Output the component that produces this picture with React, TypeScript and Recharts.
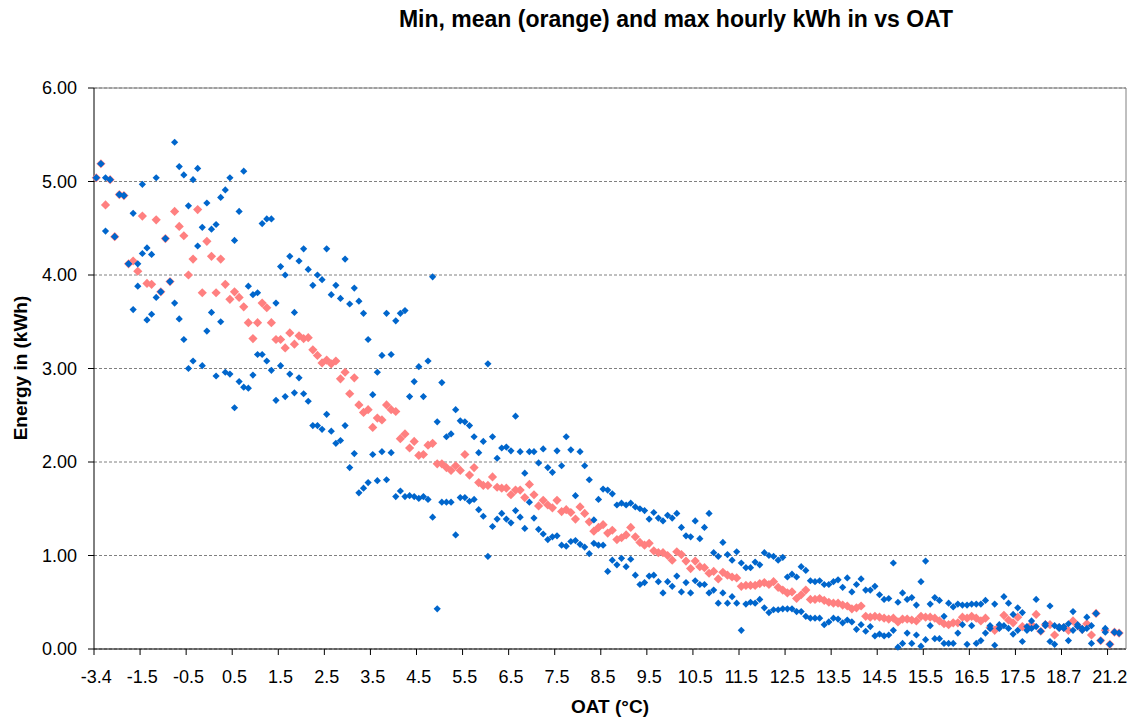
import { LineChart, Line, XAxis, YAxis, CartesianGrid, ReferenceLine } from "recharts";

const FONT = "'Liberation Sans', Arial, sans-serif";

// outside air temperature categories (°C), one per hourly bucket
const oat = [
  "-3.4", "-3.2", "-3.0", "-2.8", "-2.6", "-2.4", "-2.2", "-2.0", "-1.8", "-1.6",
  "-1.5", "-1.4", "-1.3", "-1.2", "-1.1", "-1.0", "-0.9", "-0.8", "-0.7", "-0.6",
  "-0.5", "-0.4", "-0.3", "-0.2", "-0.1", "0.0", "0.1", "0.2", "0.3", "0.4",
  "0.5", "0.6", "0.7", "0.8", "0.9", "1.0", "1.1", "1.2", "1.3", "1.4",
  "1.5", "1.6", "1.7", "1.8", "1.9", "2.0", "2.1", "2.2", "2.3", "2.4",
  "2.5", "2.6", "2.7", "2.8", "2.9", "3.0", "3.1", "3.2", "3.3", "3.4",
  "3.5", "3.6", "3.7", "3.8", "3.9", "4.0", "4.1", "4.2", "4.3", "4.4",
  "4.5", "4.6", "4.7", "4.8", "4.9", "5.0", "5.1", "5.2", "5.3", "5.4",
  "5.5", "5.6", "5.7", "5.8", "5.9", "6.0", "6.1", "6.2", "6.3", "6.4",
  "6.5", "6.6", "6.7", "6.8", "6.9", "7.0", "7.1", "7.2", "7.3", "7.4",
  "7.5", "7.6", "7.7", "7.8", "7.9", "8.0", "8.1", "8.2", "8.3", "8.4",
  "8.5", "8.6", "8.7", "8.8", "8.9", "9.0", "9.1", "9.2", "9.3", "9.4",
  "9.5", "9.6", "9.7", "9.8", "9.9", "10.0", "10.1", "10.2", "10.3", "10.4",
  "10.5", "10.6", "10.7", "10.8", "10.9", "11.0", "11.1", "11.2", "11.3", "11.4",
  "11.5", "11.6", "11.7", "11.8", "11.9", "12.0", "12.1", "12.2", "12.3", "12.4",
  "12.5", "12.6", "12.7", "12.8", "12.9", "13.0", "13.1", "13.2", "13.3", "13.4",
  "13.5", "13.6", "13.7", "13.8", "13.9", "14.0", "14.1", "14.2", "14.3", "14.4",
  "14.5", "14.6", "14.7", "14.8", "14.9", "15.0", "15.1", "15.2", "15.3", "15.4",
  "15.5", "15.6", "15.7", "15.8", "15.9", "16.0", "16.1", "16.2", "16.3", "16.4",
  "16.5", "16.6", "16.7", "16.8", "16.9", "17.0", "17.1", "17.2", "17.3", "17.4",
  "17.5", "17.6", "17.7", "17.8", "17.9", "18.0", "18.1", "18.2", "18.4", "18.5",
  "18.7", "18.9", "19.1", "19.3", "19.6", "19.8", "20.0", "20.3", "20.6", "20.9",
  "21.2", "21.4", "21.8", "22.3",
];

const maxKwh = [
  5.04, 5.19, 5.04, 5.02, 4.41, 4.86, 4.85, 4.12, 4.66, 4.12,
  4.97, 4.29, 4.22, 5.04, 3.82, 4.39, 3.93, 5.42, 5.16, 5.07,
  4.74, 5.02, 5.14, 4.51, 4.77, 4.49, 4.54, 4.83, 4.91, 5.04,
  4.37, 4.68, 5.11, 3.88, 3.79, 3.81, 4.55, 4.6, 4.6, 3.7,
  4.09, 4.0, 4.2, 3.6, 4.15, 4.28, 4.06, 3.89, 4.0, 3.95,
  4.28, 3.79, 3.89, 3.75, 4.17, 3.69, 3.86, 3.72, 3.59, 3.31,
  2.72, 2.96, 3.14, 3.59, 3.15, 3.51, 3.59, 3.62, 2.7, 2.86,
  3.02, 2.7, 3.08, 3.98, 2.43, 2.85, 2.27, 2.3, 2.56, 2.44,
  2.43, 2.39, 2.27, 2.1, 2.22, 3.05, 2.27, 2.04, 2.15, 2.16,
  2.12, 2.49, 2.11, 1.88, 2.11, 2.11, 1.99, 2.14, 1.94, 1.89,
  2.12, 1.96, 2.27, 2.13, 1.64, 2.11, 1.96, 1.81, 1.38, 1.6,
  1.71, 1.7, 1.66, 1.54, 1.56, 1.54, 1.56, 1.52, 1.5, 1.48,
  1.39, 1.46, 1.4, 1.37, 1.43, 1.4, 1.45, 1.3, 1.21, 1.2,
  1.37, 1.18, 1.3, 1.45, 1.03, 0.99, 1.14, 1.01, 0.95, 1.04,
  0.92, 0.87, 0.87, 0.93, 0.9, 1.03, 1.0, 0.99, 0.95, 0.98,
  0.77, 0.8, 0.77, 0.88, 0.84, 0.73, 0.72, 0.73, 0.69, 0.69,
  0.72, 0.74, 0.66, 0.76, 0.61, 0.69, 0.75, 0.63, 0.63, 0.67,
  0.58, 0.53, 0.54, 0.92, 0.5, 0.6, 0.53, 0.55, 0.47, 0.72,
  0.94, 0.48, 0.55, 0.52, 0.35, 0.49, 0.45, 0.48, 0.47, 0.47,
  0.48, 0.48, 0.48, 0.52, 0.25, 0.48, 0.26, 0.56, 0.49, 0.37,
  0.44, 0.39, 0.24, 0.3, 0.53, 0.19, 0.27, 0.46, 0.25, 0.24,
  0.24, 0.27, 0.4, 0.26, 0.22, 0.34, 0.25, 0.38, 0.09, 0.22,
  0.05, 0.18, 0.17, null,
];

const meanKwh = [
  5.04, 5.19, 4.75, 5.02, 4.41, 4.86, 4.85, 4.12, 4.15, 4.04,
  4.63, 3.91, 3.9, 4.59, 3.82, 4.39, 3.93, 4.68, 4.52, 4.42,
  4.0, 4.17, 4.7, 3.81, 4.36, 4.2, 3.81, 4.17, 3.9, 3.74,
  3.82, 3.76, 3.66, 3.49, 3.32, 3.49, 3.7, 3.65, 3.49, 3.31,
  3.31, 3.22, 3.38, 3.26, 3.35, 3.32, 3.33, 3.2, 3.14, 3.06,
  3.09, 3.05, 3.08, 2.89, 2.96, 2.73, 2.9, 2.61, 2.53, 2.56,
  2.37, 2.47, 2.45, 2.61, 2.56, 2.54, 2.25, 2.3, 2.15, 2.22,
  2.07, 2.08, 2.18, 2.2, 1.98, 1.98, 1.94, 1.91, 1.96, 1.91,
  2.08, 1.86, 1.94, 1.78, 1.75, 1.75, 1.84, 1.73, 1.72, 1.72,
  1.65, 1.7, 1.7, 1.62, 1.76, 1.65, 1.53, 1.59, 1.54, 1.51,
  1.59, 1.47, 1.49, 1.46, 1.39, 1.52, 1.45, 1.36, 1.26, 1.3,
  1.33, 1.24, 1.27, 1.17, 1.19, 1.22, 1.3, 1.2, 1.14, 1.11,
  1.13, 1.05, 1.03, 1.03, 1.0, 0.95, 1.04, 1.01, 0.94, 0.86,
  0.94, 0.88, 0.87, 0.81, 0.83, 0.75, 0.82, 0.79, 0.77, 0.76,
  0.67, 0.68, 0.68, 0.68, 0.7, 0.71, 0.69, 0.72, 0.66, 0.63,
  0.6, 0.61, 0.54, 0.58, 0.63, 0.53, 0.53, 0.54, 0.52, 0.5,
  0.49, 0.49, 0.47, 0.46, 0.43, 0.44, 0.46, 0.35, 0.34, 0.35,
  0.34, 0.33, 0.32, 0.33, 0.29, 0.32, 0.32, 0.31, 0.3, 0.35,
  0.34, 0.34, 0.33, 0.3, 0.27, 0.26, 0.28, 0.28, 0.34, 0.33,
  0.35, 0.33, 0.3, 0.33, 0.23, 0.2, 0.24, 0.36, 0.31, 0.28,
  0.34, 0.24, 0.22, 0.26, 0.37, 0.19, 0.26, 0.26, 0.15, 0.23,
  0.23, 0.2, 0.3, 0.25, 0.21, 0.27, 0.15, 0.38, 0.09, 0.2,
  0.05, 0.18, 0.17, null,
];

const minKwh = [
  5.04, 5.19, 4.47, 5.02, 4.41, 4.86, 4.85, 4.12, 3.63, 3.88,
  4.23, 3.52, 3.58, 3.76, 3.82, 4.39, 3.93, 3.7, 3.53, 3.31,
  3.0, 3.08, 4.31, 3.03, 3.4, 3.6, 2.92, 3.5, 2.96, 2.94,
  2.58, 2.86, 2.8, 2.79, 2.93, 3.15, 3.15, 3.08, 2.98, 2.66,
  3.03, 2.7, 2.94, 2.74, 2.9, 2.73, 2.65, 2.39, 2.39, 2.35,
  2.51, 2.33, 2.2, 2.23, 2.39, 1.94, 2.09, 1.67, 1.72, 1.78,
  2.08, 1.8, 2.11, 1.81, 2.1, 1.63, 1.69, 1.63, 1.64, 1.63,
  1.61, 1.63, 1.6, 1.41, 0.43, 1.57, 1.57, 1.57, 1.22, 1.62,
  1.62, 1.58, 1.6, 1.49, 1.42, 0.99, 1.31, 1.39, 1.45, 1.39,
  1.35, 1.48, 1.41, 1.29, 1.57, 1.4, 1.28, 1.23, 1.17, 1.2,
  1.21, 1.11, 1.1, 1.15, 1.16, 1.12, 1.09, 1.02, 1.13, 1.11,
  1.11, 0.83, 0.95, 0.9, 0.97, 0.88, 0.96, 0.79, 0.69, 0.71,
  0.78, 0.79, 0.72, 0.6, 0.72, 0.67, 0.78, 0.61, 0.71, 0.6,
  0.73, 0.69, 0.69, 0.6, 0.63, 0.49, 0.6, 0.49, 0.56, 0.49,
  0.2, 0.48, 0.5, 0.49, 0.53, 0.44, 0.39, 0.42, 0.42, 0.43,
  0.43, 0.43, 0.4, 0.4, 0.35, 0.33, 0.33, 0.33, 0.26, 0.29,
  0.33, 0.32, 0.28, 0.31, 0.29, 0.21, 0.26, 0.19, 0.24, 0.14,
  0.16, 0.14, 0.15, 0.2, 0.02, 0.06, 0.17, 0.06, 0.15, 0.03,
  0.1, 0.25, 0.11, 0.11, 0.06, 0.06, 0.06, 0.17, 0.26, 0.05,
  0.25, 0.06, 0.09, 0.17, 0.22, 0.04, 0.22, 0.25, 0.22, 0.16,
  0.2, 0.08, 0.2, 0.22, 0.24, 0.19, 0.25, 0.08, 0.05, 0.22,
  0.22, 0.09, 0.2, 0.24, 0.2, 0.22, 0.06, 0.38, 0.09, 0.18,
  0.05, 0.18, 0.17, null,
];

const yTicks = [0, 1, 2, 3, 4, 5, 6];

const data = oat.map((t, i) => ({
  oat: t,
  min: minKwh[i],
  mean: meanKwh[i],
  max: maxKwh[i],
}));

const PLOT_LEFT = 94;
const PLOT_RIGHT = 1126;
const HALF_BAND = (PLOT_RIGHT - PLOT_LEFT) / oat.length / 2;

function diamond(color: string, r: number) {
  return (props: any) => {
    const { cx, cy, index } = props;
    if (cx == null || cy == null || props.value == null) return <g key={`d-${index}`} />;
    return (
      <path
        key={`d-${index}`}
        d={`M${cx},${cy - r}L${cx + r},${cy}L${cx},${cy + r}L${cx - r},${cy}Z`}
        fill={color}
      />
    );
  };
}

function XTick(props: any) {
  const { x, y, payload } = props;
  return (
    <g>
      <line x1={x - HALF_BAND} x2={x - HALF_BAND} y1={y - 6} y2={y} stroke="#000" />
      <text x={x} y={y + 28} textAnchor="middle" fill="#000" fontSize={18} fontFamily={FONT}>
        {payload.value}
      </text>
    </g>
  );
}

export default function App() {
  return (
    <div
      style={{
        position: "absolute",
        left: 0,
        top: 0,
        width: 1135,
        height: 725,
        background: "#fff",
        fontFamily: FONT,
      }}
    >
      <div
        style={{
          position: "absolute",
          left: 676,
          top: 8,
          transform: "translateX(-50%)",
          whiteSpace: "nowrap",
          fontSize: 23,
          lineHeight: "23px",
          fontWeight: "bold",
        }}
      >
        Min, mean (orange) and max hourly kWh in vs OAT
      </div>

      <LineChart
        width={1135}
        height={725}
        data={data}
        margin={{ top: 88, right: 8, bottom: 36, left: 0 }}
      >
        <CartesianGrid vertical={false} stroke="#808080" strokeDasharray="3 2" />
        <ReferenceLine y={6} stroke="#808080" />
        <XAxis
          dataKey="oat"
          interval={9}
          height={40}
          tickSize={6}
          tickMargin={0}
          tickLine={false}
          tick={<XTick />}
          padding={{ left: HALF_BAND, right: HALF_BAND }}
          axisLine={{ stroke: "#000" }}
        />
        <YAxis
          domain={[0, 6]}
          ticks={yTicks}
          interval={0}
          width={94}
          tickSize={6}
          tickMargin={11}
          tickFormatter={(v: number) => v.toFixed(2)}
          axisLine={{ stroke: "#000" }}
          tickLine={{ stroke: "#000" }}
          tick={{ fill: "#000", fontSize: 18, fontFamily: FONT }}
        />
        <YAxis
          yAxisId="frame"
          orientation="right"
          domain={[0, 6]}
          width={1}
          tick={false}
          tickLine={false}
          axisLine={{ stroke: "#808080" }}
        />
        <Line
          dataKey="mean"
          stroke="none"
          dot={diamond("#FF8080", 4.6)}
          activeDot={false}
          isAnimationActive={false}
        />
        <Line
          dataKey="min"
          stroke="none"
          dot={diamond("#0066CC", 3.6)}
          activeDot={false}
          isAnimationActive={false}
        />
        <Line
          dataKey="max"
          stroke="none"
          dot={diamond("#0066CC", 3.6)}
          activeDot={false}
          isAnimationActive={false}
        />
      </LineChart>

      <div
        style={{
          position: "absolute",
          left: 20,
          top: 368,
          transform: "translate(-50%, -50%) rotate(-90deg)",
          whiteSpace: "nowrap",
          fontSize: 19,
          lineHeight: "19px",
          fontWeight: "bold",
        }}
      >
        Energy in (kWh)
      </div>
      <div
        style={{
          position: "absolute",
          left: 610,
          top: 697,
          transform: "translateX(-50%)",
          whiteSpace: "nowrap",
          fontSize: 19,
          lineHeight: "19px",
          fontWeight: "bold",
        }}
      >
        OAT (°C)
      </div>
    </div>
  );
}
